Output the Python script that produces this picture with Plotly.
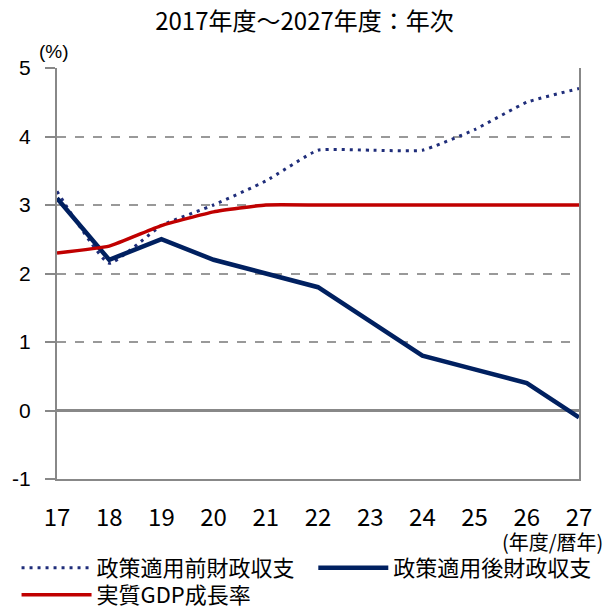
import plotly.graph_objects as go

years = [17, 18, 19, 20, 21, 22, 23, 24, 25, 26, 27]
pre_policy = [3.2, 2.15, 2.7, 3.0, 3.35, 3.8, 3.8, 3.8, 4.1, 4.5, 4.7]
post_policy = [3.1, 2.2, 2.5, 2.2, 2.0, 1.8, 1.3, 0.8, 0.6, 0.4, -0.1]
gdp_growth = [2.3, 2.4, 2.7, 2.9, 3.0, 3.0, 3.0, 3.0, 3.0, 3.0, 3.0]
names = ["政策適用前財政収支", "政策適用後財政収支", "実質GDP成長率"]
y_ticks = [-1, 0, 1, 2, 3, 4, 5]
y_ticktext = ["-1", "0", "1", "2", "3", "4", "5"]

CJK = "Noto Sans CJK JP"
NARROW = "Liberation Sans Narrow, Noto Sans CJK JP"
SANS = "Liberation Sans, Noto Sans CJK JP"

fig = go.Figure()
fig.add_trace(go.Scatter(x=years, y=pre_policy, name=names[0], mode="lines", legend="legend",
                         line=dict(color="#1F2D7A", width=3, dash="3px,5px", shape="spline", smoothing=0.4)))
fig.add_trace(go.Scatter(x=years, y=post_policy, name=names[1], mode="lines", legend="legend2",
                         line=dict(color="#002060", width=4.5)))
fig.add_trace(go.Scatter(x=years, y=gdp_growth, name=names[2], mode="lines", legend="legend3",
                         line=dict(color="#C00000", width=3.5, shape="spline", smoothing=0.4)))
for tr in fig.data:
    tr.showlegend = True

leg_common = dict(orientation="h", xanchor="left", yanchor="middle", visible=True,
                  font=dict(size=22, family=CJK), itemwidth=70,
                  bgcolor="rgba(0,0,0,0)")

fig.update_layout(
    width=609, height=607,
    showlegend=True,
    margin=dict(l=57, r=30, t=68, b=128, autoexpand=False),
    plot_bgcolor="white", paper_bgcolor="white",
    font=dict(family=CJK, color="#000000"),
    title=dict(text="2017年度～2027年度：年次", x=0.5, xanchor="center",
               y=1 - 22 / 607, yanchor="middle", font=dict(size=24, family=NARROW)),
    xaxis=dict(range=[17, 27], tickvals=years, ticktext=[str(v) for v in years],
               showgrid=False, zeroline=False, showline=True, linecolor="#888888", linewidth=2,
               ticks="", tickfont=dict(size=24, family=NARROW), ticklabelstandoff=16),
    yaxis=dict(range=[-1, 5], tickvals=y_ticks, ticktext=y_ticktext, showgrid=True,
               gridcolor="#999999", griddash="dash", gridwidth=1.5, zeroline=True,
               zerolinecolor="#888888", zerolinewidth=2.5, showline=True, linecolor="#888888",
               linewidth=2, mirror=True, ticks="outside", ticklen=10, tickcolor="#888888",
               tickwidth=2, tickfont=dict(size=21, family=SANS), ticklabelstandoff=10),
    legend=dict(x=-0.0775, y=-0.2165, **leg_common),
    legend2=dict(x=0.491, y=-0.2165, **leg_common),
    legend3=dict(x=-0.0775, y=-0.282, **leg_common),
    annotations=[
        dict(text="(%)", xref="paper", yref="paper", x=-0.006, y=1.039, xanchor="center",
             yanchor="middle", showarrow=False, font=dict(size=19, family=SANS)),
        dict(text="(年度/暦年)", xref="paper", yref="paper", x=1.05, y=-0.151, xanchor="right",
             yanchor="middle", showarrow=False, font=dict(size=20, family=CJK)),
    ],
)

fig.write_html("out.html", post_script="document.body.style.margin='0';",
               config={"displayModeBar": False})
